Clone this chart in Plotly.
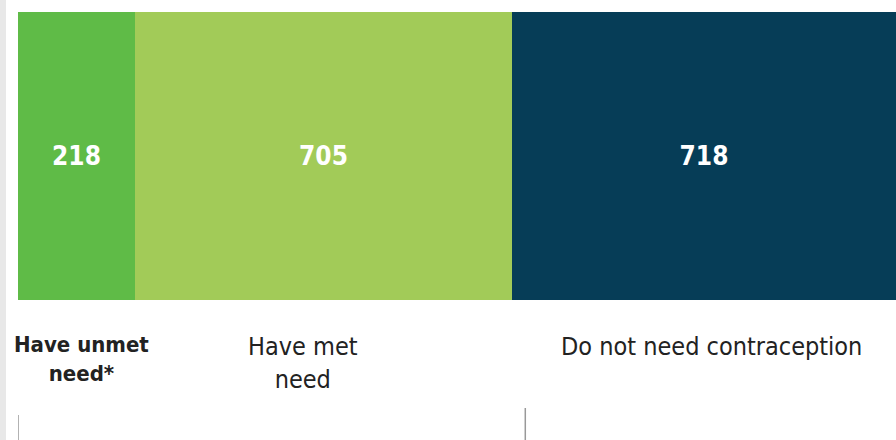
import plotly.graph_objects as go

categories = ["Have unmet need*", "Have met need", "Do not need contraception"]
values = [218, 705, 718]
colors = ["#5fbb47", "#a2cb58", "#063d57"]
label_html = ["<b>Have unmet<br>need*</b>", "Have met<br>need", "Do not need contraception"]
label_shift = [5, -20, 8]
label_size = [22, 25, 25]

FONT = "DejaVu Sans Condensed"

fig = go.Figure()
for cat, v, c in zip(categories, values, colors):
    fig.add_trace(go.Bar(
        y=["all"], x=[v], orientation="h", name=cat,
        marker=dict(color=c, line=dict(width=0)),
        text=[str(v)], textposition="inside", insidetextanchor="middle",
        textfont=dict(family=FONT, size=26, color="white"),
        texttemplate="<b>%{text}</b>",
        hoverinfo="skip",
    ))

total = sum(values)
cum = 0
for lab, v, sh, fs in zip(label_html, values, label_shift, label_size):
    mid = cum + v / 2
    cum += v
    fig.add_annotation(
        x=mid, xref="x", y=(440 - 330) / 440, yref="paper", yanchor="top",
        text=lab, showarrow=False, xshift=sh,
        font=dict(family=FONT, size=fs, color="#222222"),
        align="center",
    )

# thin vertical tick lines at bottom
x_line2 = values[0] + values[1] + 0.035 * values[2]
fig.add_shape(type="line", xref="x", yref="paper", x0=0, x1=0, y0=0, y1=25 / 440,
              line=dict(color="#999999", width=1.5))
fig.add_shape(type="line", xref="x", yref="paper", x0=x_line2, x1=x_line2,
              y0=0, y1=32 / 440, line=dict(color="#999999", width=1.5))
# light gray page strip on left
fig.add_shape(type="rect", xref="paper", yref="paper", x0=0, x1=6 / 896, y0=0, y1=1,
              fillcolor="#e8e8e8", line=dict(width=0), layer="above")

fig.update_layout(
    barmode="stack", bargap=0,
    width=896, height=440,
    margin=dict(l=0, r=0, t=0, b=0),
    paper_bgcolor="white", plot_bgcolor="white",
    showlegend=False,
    xaxis=dict(range=[0, total], domain=[18 / 896, 1], visible=False, fixedrange=True),
    yaxis=dict(range=[-0.5, 0.5], domain=[140 / 440, 428 / 440], visible=False, fixedrange=True),
)

fig.write_html("out.html", config={"displayModeBar": False},
               post_script="document.body.style.margin='0';")
